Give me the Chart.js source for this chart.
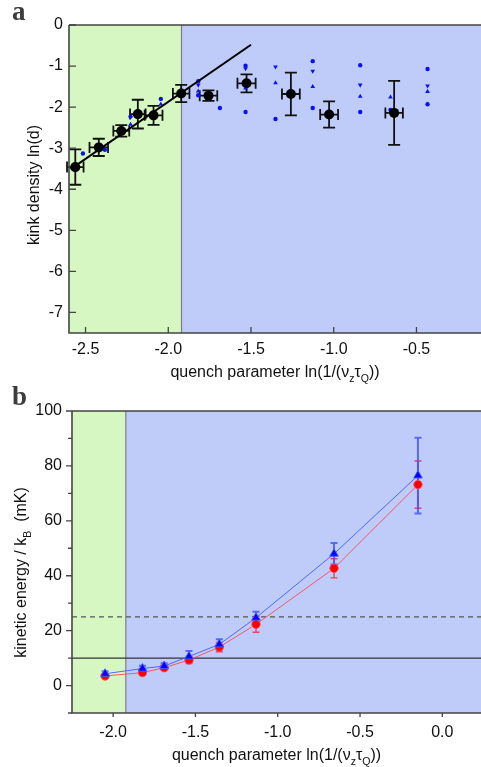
<!DOCTYPE html>
<html><head><meta charset="utf-8">
<script src="https://cdn.jsdelivr.net/npm/chart.js@4.4.1/dist/chart.umd.min.js"></script>
<style>
html,body{margin:0;padding:0;background:#fff;width:481px;height:767px;overflow:hidden}
canvas{position:absolute;left:0}
#ca{top:0}
#cb{top:380px}
</style></head><body>
<canvas id="ca" width="481" height="395"></canvas>
<canvas id="cb" width="481" height="387"></canvas>
<script>
// ---------- Panel a data ----------
const aX    = [-2.562, -2.420, -2.284, -2.184, -2.089, -1.922, -1.757, -1.527, -1.259, -1.028, -0.635];
const aY    = [-3.46, -2.98, -2.58, -2.17, -2.20, -1.67, -1.72, -1.42, -1.68, -2.18, -2.14];
const aYErr = [0.43, 0.21, 0.14, 0.35, 0.23, 0.21, 0.13, 0.22, 0.52, 0.32, 0.78];
const aXErr = [0.05, 0.056, 0.048, 0.047, 0.054, 0.05, 0.053, 0.055, 0.054, 0.054, 0.053];
const fitX  = [-2.59, -1.50];
const fitY  = [-3.51, -0.48];
const circX = [-2.516, -2.383, -2.228, -2.045, -1.819, -1.819, -1.688, -1.533, -1.533, -1.352, -1.127, -1.127, -0.840, -0.840, -0.657, -0.433, -0.433];
const circY = [-3.13, -3.04, -2.23, -1.80, -1.37, -1.71, -2.02, -0.99, -2.12, -2.29, -0.88, -2.02, -0.98, -2.12, -2.07, -1.07, -1.93];
const upX   = [-2.228, -2.045, -1.819, -1.533, -1.352, -1.127, -0.840, -0.657, -0.433];
const upY   = [-2.42, -1.93, -1.61, -1.54, -1.41, -1.50, -1.74, -1.756, -1.62];
const dnX   = [-1.819, -1.533, -1.352, -1.127, -0.840, -0.433];
const dnY   = [-1.46, -1.06, -1.02, -1.12, -1.46, -1.48];
const aXTicks = [-2.5, -2.0, -1.5, -1.0, -0.5];
const aYTicks = [0, -1, -2, -3, -4, -5, -6, -7];
const aXRange = [-2.6, -0.11];
const aYRange = [-7.5, 0];
const aBoundary = -1.92;

// ---------- Panel b data ----------
const bX      = [-2.049, -1.822, -1.690, -1.539, -1.355, -1.132, -0.658, -0.148];
const redY    = [3.5, 4.7, 6.5, 9.3, 14.0, 22.3, 42.7, 73.2];
const redErr  = [0.8, 0.9, 0.9, 1.3, 1.7, 2.9, 3.5, 8.6];
const blueY   = [4.3, 6.2, 7.1, 10.6, 15.0, 24.7, 48.0, 76.5];
const blueErr = [0.9, 1.0, 1.0, 2.0, 1.9, 2.2, 3.9, 13.8];
const refSolid  = 10;
const refDashed = 25;
const bXTicks = [-2.0, -1.5, -1.0, -0.5, 0.0];
const bYTicks = [0, 20, 40, 60, 80, 100];
const bYMinor = [-10, 10, 30, 50, 70, 90];
const bXRange = [-2.25, 0.235];
const bYRange = [-10, 100];
const bBoundary = -1.923;

const FONT = '"Liberation Sans", Arial, sans-serif';
Chart.defaults.font.family = FONT;
Chart.defaults.font.size = 16;
Chart.defaults.color = '#111';

const GREEN = 'rgb(214,247,194)';
const BLUE  = 'rgb(191,204,250)';

function pts(xs, ys){ return xs.map((x,i)=>({x:x, y:ys[i]})); }

function richText(ctx, parts, x, y, size, rot){
  ctx.save();
  ctx.translate(x, y);
  if (rot) ctx.rotate(rot);
  let w = 0;
  parts.forEach(p=>{ ctx.font = (p.sub? size*0.66 : size)+'px '+FONT; p.w = ctx.measureText(p.t).width; w += p.w; });
  let cx = -w/2;
  ctx.textAlign = 'left'; ctx.textBaseline = 'alphabetic'; ctx.fillStyle = '#111';
  parts.forEach(p=>{ ctx.font = (p.sub? size*0.66 : size)+'px '+FONT; ctx.fillText(p.t, cx, p.sub? size*0.32 : 0); cx += p.w; });
  ctx.restore();
}

const xTitleParts = () => [{t:'quench parameter ln(1/(ν'},{t:'z',sub:true},{t:'τ'},{t:'Q',sub:true},{t:'))'}];

// background regions
const bgPlugin = {
  id:'bg',
  beforeDraw(chart, args, o){
    const {ctx, chartArea:ca, scales:{x}} = chart;
    const bx = x.getPixelForValue(o.boundary);
    ctx.save();
    ctx.fillStyle = GREEN; ctx.fillRect(ca.left, ca.top, bx-ca.left, ca.bottom-ca.top);
    ctx.fillStyle = BLUE;  ctx.fillRect(bx, ca.top, ca.right-bx, ca.bottom-ca.top);
    ctx.strokeStyle = '#7a7f88'; ctx.lineWidth = 1.2;
    ctx.beginPath(); ctx.moveTo(bx, ca.top); ctx.lineTo(bx, ca.bottom); ctx.stroke();
    (o.refs||[]).forEach(r=>{
      const py = chart.scales.y.getPixelForValue(r.y);
      ctx.strokeStyle = r.color; ctx.lineWidth = r.width; ctx.setLineDash(r.dash||[]);
      ctx.beginPath(); ctx.moveTo(ca.left, py); ctx.lineTo(ca.right, py); ctx.stroke();
    });
    ctx.restore();
  }
};

// error bars
const errPlugin = {
  id:'errbars',
  beforeDatasetsDraw(chart, args, o){
    const {ctx, scales:{x, y}} = chart;
    ctx.save();
    (o.sets||[]).forEach(s=>{
      ctx.strokeStyle = s.color; ctx.lineWidth = s.width;
      s.xs.forEach((xv,i)=>{
        const px = x.getPixelForValue(xv), py = y.getPixelForValue(s.ys[i]);
        if (s.yErr){
          const t = y.getPixelForValue(s.ys[i]+s.yErr[i]), b = y.getPixelForValue(s.ys[i]-s.yErr[i]);
          ctx.beginPath();
          ctx.moveTo(px, t); ctx.lineTo(px, b);
          ctx.moveTo(px-s.cap, t); ctx.lineTo(px+s.cap, t);
          ctx.moveTo(px-s.cap, b); ctx.lineTo(px+s.cap, b);
          ctx.stroke();
        }
        if (s.xErr){
          const l = x.getPixelForValue(xv-s.xErr[i]), r = x.getPixelForValue(xv+s.xErr[i]);
          ctx.beginPath();
          ctx.moveTo(l, py); ctx.lineTo(r, py);
          ctx.moveTo(l, py-s.xcap); ctx.lineTo(l, py+s.xcap);
          ctx.moveTo(r, py-s.xcap); ctx.lineTo(r, py+s.xcap);
          ctx.stroke();
        }
      });
    });
    ctx.restore();
  }
};

// frame, ticks and titles
const framePlugin = {
  id:'frame',
  afterDraw(chart, args, o){
    const {ctx, chartArea:ca, scales:{x, y}} = chart;
    ctx.save();
    ctx.strokeStyle = '#444'; ctx.lineWidth = 1.6;
    ctx.beginPath();
    ctx.moveTo(ca.left, ca.top); ctx.lineTo(ca.left, ca.bottom); ctx.lineTo(ca.right, ca.bottom);
    ctx.moveTo(ca.left, ca.top); ctx.lineTo(ca.right, ca.top);
    ctx.stroke();
    ctx.lineWidth = 1.3;
    const dir = o.inward ? 1 : -1;
    ctx.beginPath();
    o.xTicks.forEach(v=>{ const px = x.getPixelForValue(v); ctx.moveTo(px, ca.bottom); ctx.lineTo(px, ca.bottom - dir*o.xLen); });
    o.yTicks.forEach(v=>{ const py = y.getPixelForValue(v); ctx.moveTo(ca.left, py); ctx.lineTo(ca.left + dir*o.yLen, py); });
    (o.yMinor||[]).forEach(v=>{ const py = y.getPixelForValue(v); ctx.moveTo(ca.left, py); ctx.lineTo(ca.left + dir*o.minorLen, py); });
    ctx.stroke();
    ctx.fillStyle = '#3c3c3c';
    ctx.font = 'bold 27px "Liberation Serif", "DejaVu Serif", serif';
    ctx.textAlign = 'left'; ctx.textBaseline = 'alphabetic';
    ctx.fillText(o.letter, o.letterPos[0], o.letterPos[1]);
    ctx.restore();
    richText(ctx, xTitleParts(), (ca.left+ca.right)/2, o.xTitleY, 16, 0);
    richText(ctx, o.yTitle, o.yTitlePos[0], o.yTitlePos[1], 16, -Math.PI/2);
  }
};

function scaleCfg(range, ticks, fmt, pad, size, isX){
  return {
    type:'linear', min:range[0], max:range[1],
    grid:{display:false, drawTicks:false},
    border:{display:false},
    afterBuildTicks(s){ s.ticks = ticks.map(v=>({value:v})); },
    afterFit(s){
      if (isX) s.height = size; else s.width = size;
      s.paddingLeft = 0; s.paddingRight = 0; s.paddingTop = 0; s.paddingBottom = 0;
    },
    ticks:{ padding:pad, font:{size:16}, color:'#111', callback:(v)=>fmt(v), autoSkip:false, maxRotation:0 }
  };
}

// ---------- Chart a ----------
new Chart(document.getElementById('ca'), {
  type:'scatter',
  data:{ datasets:[
    { data:pts(aX, aY), pointRadius:5, pointHoverRadius:5, backgroundColor:'#000', borderWidth:0 },
    { type:'line', data:pts(fitX, fitY), borderColor:'#000', borderWidth:2, pointRadius:0, showLine:true, fill:false },
    { data:pts(circX, circY), pointRadius:2.2, backgroundColor:'#0a10f5', borderWidth:0 },
    { data:pts(upX, upY), pointStyle:'triangle', pointRadius:2.7, backgroundColor:'#0a10f5', borderWidth:0 },
    { data:pts(dnX, dnY), pointStyle:'triangle', rotation:180, pointRadius:2.7, backgroundColor:'#0a10f5', borderWidth:0 }
  ]},
  options:{
    responsive:false, animation:false, devicePixelRatio:1,
    layout:{autoPadding:false, padding:{top:25, right:0, left:0, bottom:0}},
    scales:{
      x: scaleCfg(aXRange, aXTicks, v=>v.toFixed(1), 7, 62, true),
      y: scaleCfg(aYRange, aYTicks, v=>String(v), 6, 69, false)
    },
    plugins:{
      legend:{display:false}, tooltip:{enabled:false},
      bg:{boundary:aBoundary},
      errbars:{sets:[{xs:aX, ys:aY, yErr:aYErr, xErr:aXErr, color:'#111', width:1.8, cap:6, xcap:5.5}]},
      frame:{inward:true, xTicks:aXTicks, yTicks:aYTicks, xLen:6, yLen:7, letter:'a', letterPos:[12,20],
             xTitleY:376.5, yTitle:[{t:'kink density ln(d)'}], yTitlePos:[39,185]}
    }
  },
  plugins:[bgPlugin, errPlugin, framePlugin]
});

// ---------- Chart b ----------
new Chart(document.getElementById('cb'), {
  type:'scatter',
  data:{ datasets:[
    { data:pts(bX, blueY), pointStyle:'triangle', pointRadius:5, backgroundColor:'#0000ff',
      showLine:true, borderColor:'rgba(70,90,255,0.9)', borderWidth:1 },
    { data:pts(bX, redY), pointRadius:4.2, backgroundColor:'#ff0000',
      showLine:true, borderColor:'rgba(255,70,90,0.9)', borderWidth:1 }
  ]},
  options:{
    responsive:false, animation:false, devicePixelRatio:1,
    elements:{point:{borderWidth:0}},
    layout:{autoPadding:false, padding:{top:31, right:0, left:0, bottom:0}},
    scales:{
      x: scaleCfg(bXRange, bXTicks, v=>v.toFixed(1), 10, 54, true),
      y: scaleCfg(bYRange, bYTicks, v=>String(v), 10, 72, false)
    },
    plugins:{
      legend:{display:false}, tooltip:{enabled:false},
      bg:{boundary:bBoundary, refs:[{y:refSolid, color:'#333', width:1.2},{y:refDashed, color:'#555', width:1.2, dash:[5,4]}]},
      errbars:{sets:[
        {xs:bX, ys:redY, yErr:redErr, color:'rgba(240,50,80,0.9)', width:1.4, cap:3.5},
        {xs:bX, ys:blueY, yErr:blueErr, color:'rgba(60,80,255,0.8)', width:2, cap:3.5}
      ]},
      frame:{inward:false, xTicks:bXTicks, yTicks:bYTicks, yMinor:bYMinor, xLen:4, yLen:6, minorLen:4, letter:'b', letterPos:[12,25],
             xTitleY:379.5, yTitle:[{t:'kinetic energy / k'},{t:'B',sub:true},{t:'  (mK)'}], yTitlePos:[25.5,192.5]}
    }
  },
  plugins:[bgPlugin, errPlugin, framePlugin]
});
</script></body></html>
